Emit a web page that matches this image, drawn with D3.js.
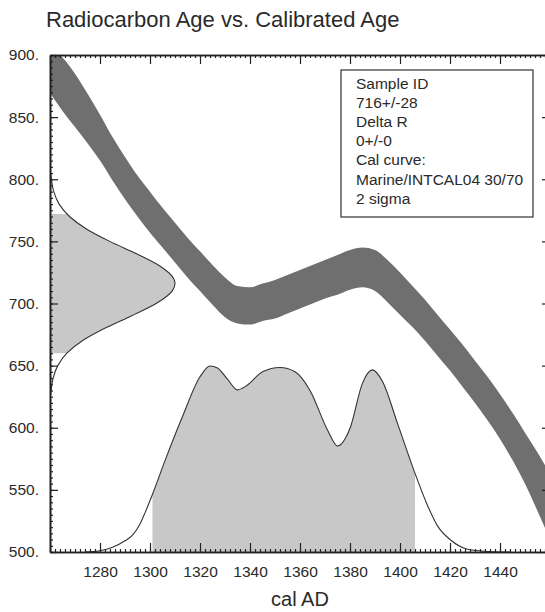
<!DOCTYPE html>
<html>
<head>
<meta charset="utf-8">
<script src="https://cdn.jsdelivr.net/npm/d3@7"></script>
<style>
  html, body { margin: 0; padding: 0; background: #fff; }
  svg text { font-family: "Liberation Sans", Arial, Helvetica, sans-serif; fill: #2a2a2a; }
</style>
</head>
<body>
<div id="chart"></div>
<script>
// calibration curve band (cal AD, upper / lower radiocarbon age)
const bandYears = [1255, 1260, 1265, 1270, 1275, 1280, 1285, 1290, 1295, 1300, 1305, 1310, 1315, 1320, 1325, 1330, 1335, 1340, 1345, 1350, 1355, 1360, 1365, 1370, 1375, 1380, 1385, 1390, 1395, 1400, 1405, 1410, 1415, 1420, 1425, 1430, 1435, 1440, 1445, 1450, 1455, 1460];
const bandUpper = [915, 905, 898, 885, 869, 852, 834, 818, 803, 790, 777, 765, 753, 742, 731, 721, 714, 713, 716, 719, 723, 727, 731, 735, 739, 743, 745, 743, 735, 725, 714, 703, 691, 679, 667, 654, 641, 627, 612, 596, 580, 563];
const bandLower = [880, 869, 855, 842, 829, 815, 799, 784, 770, 757, 745, 733, 721, 710, 699, 689, 684, 683, 686, 688, 692, 696, 700, 704, 707, 711, 713, 710, 701, 691, 681, 670, 658, 646, 633, 620, 606, 591, 574, 555, 533, 510];

// calibrated age probability (relative)
const calYears = [1274, 1280, 1285, 1290, 1293, 1296, 1298, 1301, 1306, 1313, 1320, 1324, 1327, 1331, 1335, 1339, 1345, 1352, 1358, 1364, 1371, 1375, 1380, 1385, 1389, 1393, 1399, 1406, 1411, 1415, 1420, 1427, 1435, 1444];
const calProb = [0, 0.007, 0.025, 0.06, 0.09, 0.15, 0.21, 0.31, 0.49, 0.727, 0.94, 0.998, 0.987, 0.927, 0.87, 0.896, 0.967, 0.99, 0.967, 0.867, 0.655, 0.569, 0.664, 0.906, 0.977, 0.915, 0.69, 0.422, 0.25, 0.14, 0.067, 0.015, 0.003, 0];
const calRange = [1301, 1406];

// radiocarbon age probability (relative)
const c14Ages = [622, 632, 640, 650, 660, 670, 680, 690, 700, 710, 716, 720, 730, 740, 750, 760, 770, 780, 790, 800, 808];
const c14Prob = [0, 0.011, 0.025, 0.062, 0.135, 0.259, 0.438, 0.65, 0.849, 0.977, 1, 0.99, 0.882, 0.693, 0.478, 0.291, 0.156, 0.073, 0.03, 0.011, 0];
const c14Range = [660, 772];

const xTicks = [1280, 1300, 1320, 1340, 1360, 1380, 1400, 1420, 1440];
const yTicks = [500, 550, 600, 650, 700, 750, 800, 850, 900];
const legendLines = ["Sample ID", "716+/-28", "Delta R", "0+/-0", "Cal curve:", "Marine/INTCAL04 30/70", "2 sigma"];

const width = 545, height = 612;
const margin = {top: 55, right: -5, bottom: 60, left: 50};
const innerW = width - margin.left - margin.right;
const innerH = height - margin.top - margin.bottom;

const svg = d3.select("#chart").append("svg")
    .attr("width", width)
    .attr("height", height);

svg.append("text")
    .attr("x", 46)
    .attr("y", 27)
    .style("font-size", "22px")
    .text("Radiocarbon Age vs. Calibrated Age");

const g = svg.append("g").attr("transform", `translate(${margin.left},${margin.top})`);

const x = d3.scaleLinear().domain([1260, 1460]).range([0, innerW]);
const y = d3.scaleLinear().domain([500, 900]).range([innerH, 0]);
const calH = d3.scaleLinear().domain([0, 1]).range([innerH, y(650)]);
const c14W = d3.scaleLinear().domain([0, 1]).range([0, 125]);

const defs = svg.append("defs");
defs.append("clipPath").attr("id", "plot-clip")
    .append("rect").attr("width", innerW).attr("height", innerH);
defs.append("clipPath").attr("id", "cal-clip")
    .append("rect")
    .attr("x", x(calRange[0])).attr("width", x(calRange[1]) - x(calRange[0]))
    .attr("y", 0).attr("height", innerH);
defs.append("clipPath").attr("id", "c14-clip")
    .append("rect")
    .attr("x", 0).attr("width", innerW)
    .attr("y", y(c14Range[1])).attr("height", y(c14Range[0]) - y(c14Range[1]));

const plot = g.append("g").attr("clip-path", "url(#plot-clip)");

// calibrated distribution
const calData = calYears.map((yr, i) => ({yr, p: calProb[i]}));
const calArea = d3.area().x(d => x(d.yr)).y0(innerH).y1(d => calH(d.p)).curve(d3.curveMonotoneX);
const calLine = d3.line().x(d => x(d.yr)).y(d => calH(d.p)).curve(d3.curveMonotoneX);
plot.append("path")
    .datum(calData)
    .attr("clip-path", "url(#cal-clip)")
    .attr("fill", "#c8c8c8")
    .attr("d", calArea);
plot.append("path")
    .datum(calData)
    .attr("fill", "none")
    .attr("stroke", "#333")
    .attr("stroke-width", 1.1)
    .attr("d", calLine);

// radiocarbon distribution
const c14Data = c14Ages.map((a, i) => ({a, p: c14Prob[i]}));
const c14Area = d3.area().y(d => y(d.a)).x0(0).x1(d => c14W(d.p)).curve(d3.curveMonotoneY);
const c14Line = d3.line().y(d => y(d.a)).x(d => c14W(d.p)).curve(d3.curveMonotoneY);
plot.append("path")
    .datum(c14Data)
    .attr("clip-path", "url(#c14-clip)")
    .attr("fill", "#c8c8c8")
    .attr("d", c14Area);
plot.append("path")
    .datum(c14Data)
    .attr("fill", "none")
    .attr("stroke", "#333")
    .attr("stroke-width", 1.1)
    .attr("d", c14Line);

// calibration curve band
const bandData = bandYears.map((yr, i) => ({yr, hi: bandUpper[i], lo: bandLower[i]}));
plot.append("path")
    .datum(bandData)
    .attr("fill", "#6f6f6f")
    .attr("d", d3.area().x(d => x(d.yr)).y0(d => y(d.lo)).y1(d => y(d.hi)).curve(d3.curveMonotoneX));

// axes
function styleAxis(sel) {
    sel.selectAll("path.domain").attr("stroke", "#222").attr("stroke-width", 1.6);
    sel.selectAll(".tick line").attr("stroke", "#222").attr("stroke-width", 1.2);
    sel.selectAll("text").style("font-size", "15.5px").attr("fill", "#2a2a2a");
}
const minorX = d3.range(1260, 1461, 2);
const minorY = d3.range(500, 901, 5);

g.append("g").attr("transform", `translate(0,${innerH})`)
    .call(d3.axisBottom(x).tickValues(minorX).tickSize(-3).tickSizeOuter(0).tickFormat(""))
    .call(styleAxis);
g.append("g").attr("transform", `translate(0,${innerH})`)
    .call(d3.axisBottom(x).tickValues(xTicks).tickSize(-9).tickSizeOuter(0).tickPadding(14).tickFormat(d3.format("d")))
    .call(styleAxis);
g.append("g")
    .call(d3.axisTop(x).tickValues(minorX).tickSize(-3).tickSizeOuter(0).tickFormat(""))
    .call(styleAxis);
g.append("g")
    .call(d3.axisTop(x).tickValues(xTicks).tickSize(-9).tickSizeOuter(0).tickFormat(""))
    .call(styleAxis);
g.append("g")
    .call(d3.axisLeft(y).tickValues(minorY).tickSize(-3).tickSizeOuter(0).tickFormat(""))
    .call(styleAxis);
g.append("g")
    .call(d3.axisLeft(y).tickValues(yTicks).tickSize(-8).tickSizeOuter(0).tickPadding(11).tickFormat(d => d + "."))
    .call(styleAxis);
g.append("g").attr("transform", `translate(${innerW},0)`)
    .call(d3.axisRight(y).tickValues(minorY).tickSize(-3).tickSizeOuter(0).tickFormat(""))
    .call(styleAxis);
g.append("g").attr("transform", `translate(${innerW},0)`)
    .call(d3.axisRight(y).tickValues(yTicks).tickSize(-8).tickSizeOuter(0).tickFormat(""))
    .call(styleAxis);

svg.append("text")
    .attr("x", margin.left + x(1360))
    .attr("y", 606)
    .attr("text-anchor", "middle")
    .style("font-size", "20px")
    .text("cal AD");

// legend
const legend = svg.append("g").attr("transform", "translate(341,70)");
legend.append("rect")
    .attr("width", 192).attr("height", 147)
    .attr("fill", "#fff").attr("stroke", "#333").attr("stroke-width", 1.2);
legend.selectAll("text.line")
    .data(legendLines)
    .join("text")
    .attr("class", "line")
    .attr("x", 15)
    .attr("y", (d, i) => 18.5 + i * 19.2)
    .style("font-size", "15.5px")
    .text(d => d);
</script>
</body>
</html>
